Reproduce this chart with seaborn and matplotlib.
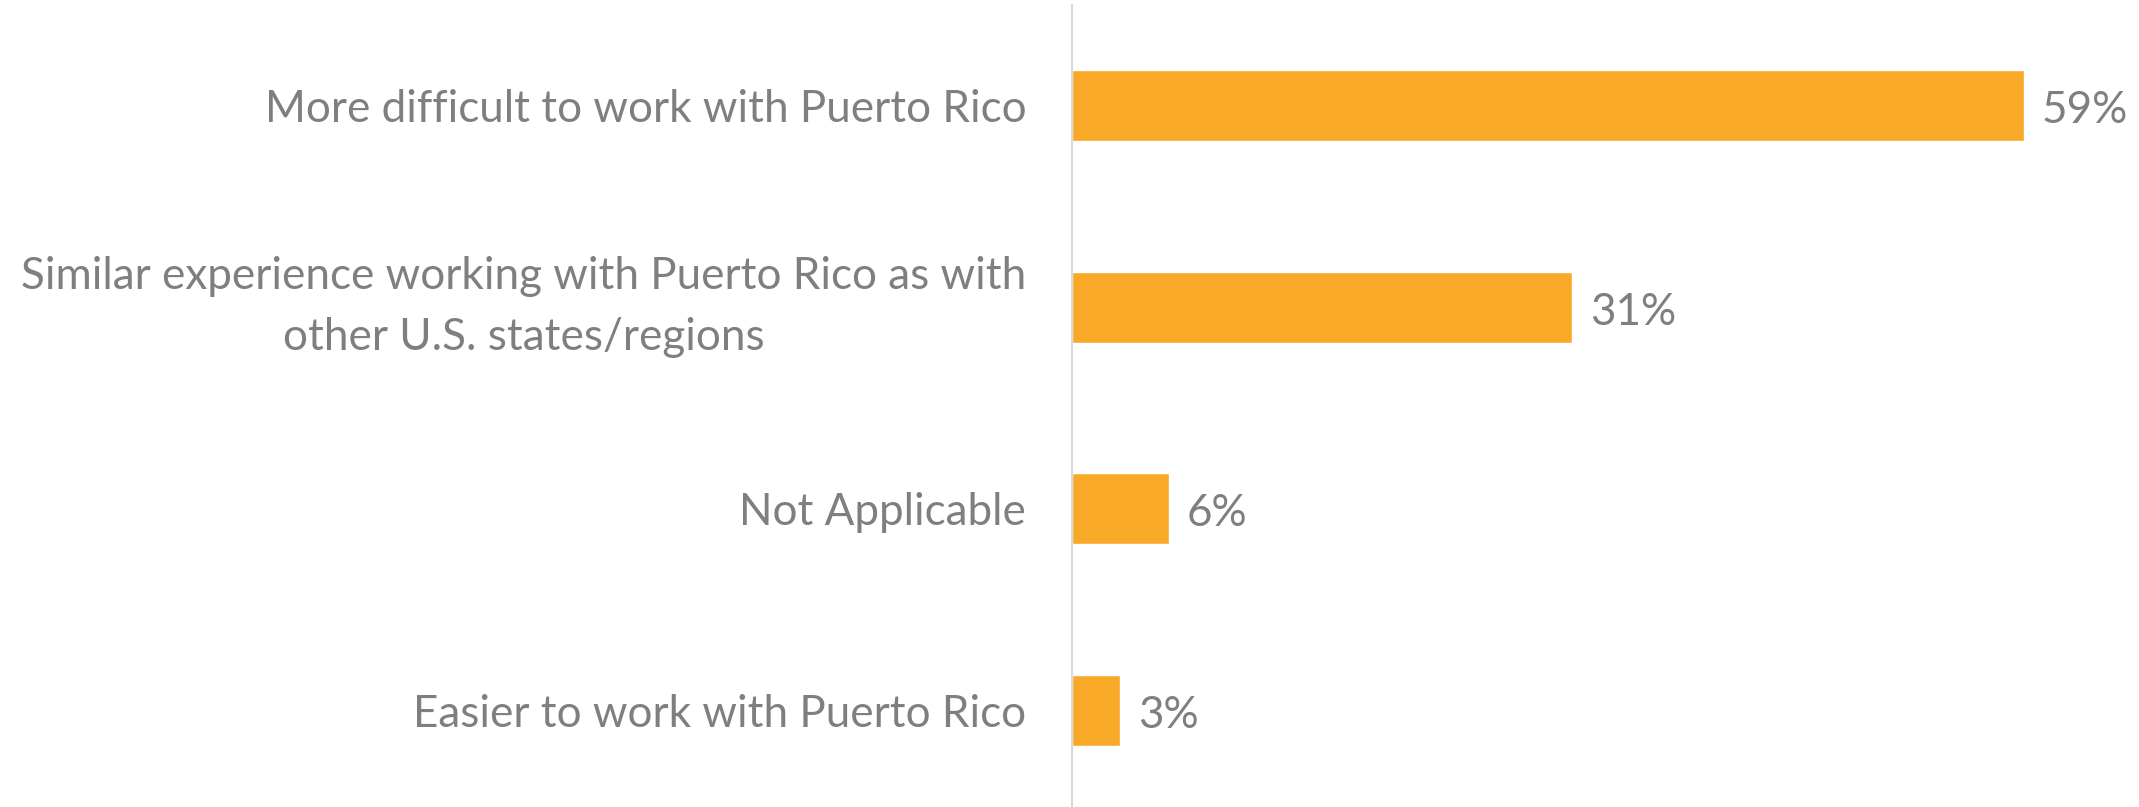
import matplotlib
matplotlib.use("Agg")
import matplotlib.pyplot as plt
import seaborn as sns
import pandas as pd

categories = [
    "More difficult to work with Puerto Rico",
    "Similar experience working with Puerto Rico as with\nother U.S. states/regions",
    "Not Applicable",
    "Easier to work with Puerto Rico",
]
values = [59, 31, 6, 3]
value_labels = ["59%", "31%", "6%", "3%"]

df = pd.DataFrame({"category": categories, "value": values})

sns.set_theme(style="white")
plt.rcParams["font.family"] = ["Lato", "DejaVu Sans"]

TEXT = "#7f7f7f"
BAR = "#F9A928"

fig = plt.figure(figsize=(21.39, 8.07), dpi=100)
ax = fig.add_axes([1072 / 2139, -4 / 807, (2139 - 1072) / 2139, 806 / 807])

sns.barplot(data=df, y="category", x="value", orient="h", color=BAR,
            width=0.352, saturation=1, ax=ax)

ax.set_xlim(0, (2139 - 1072) / 16.14)
ax.set_ylim(3.5, -0.5)
ax.set_xlabel("")
ax.set_ylabel("")
ax.set_xticks([])

for s in ["top", "right", "bottom"]:
    ax.spines[s].set_visible(False)
ax.spines["left"].set_color("#d9d9d9")
ax.spines["left"].set_linewidth(1.5)

ax.tick_params(axis="y", length=0, pad=33, labelsize=31.7, labelcolor=TEXT)
for t in ax.get_yticklabels():
    t.set_multialignment("center")
    t.set_linespacing(1.6)
    if "\n" in t.get_text():
        t.set_verticalalignment("center")

for i, (v, lab) in enumerate(zip(values, value_labels)):
    ax.text(v + 1.1, i + 0.025, lab, va="center", ha="left",
            fontsize=31.7, color=TEXT)

fig.savefig("out.png", dpi=100, facecolor="white")
